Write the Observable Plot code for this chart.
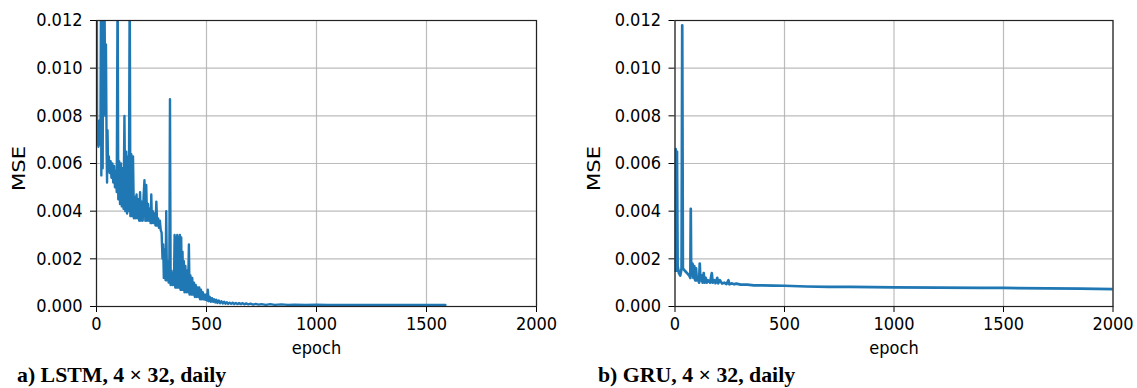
<!DOCTYPE html>
<html>
<head>
<meta charset="utf-8">
<script src="https://cdn.jsdelivr.net/npm/d3@7"></script>
<script src="https://cdn.jsdelivr.net/npm/@observablehq/plot@0.6"></script>
<style>
  html, body { margin: 0; padding: 0; background: #fff; }
  #wrap { position: relative; width: 1137px; height: 388px; overflow: hidden; }
  .panel { position: absolute; top: 0; }
  .cap { position: absolute; top: 364px; font-family: "Liberation Serif", "Times New Roman", serif; font-weight: bold; font-size: 21.8px; line-height: 22px; color: #000; white-space: nowrap; }
</style>
</head>
<body>
<div id="wrap">
  <div class="panel" id="p1" style="left:0px"></div>
  <div class="panel" id="p2" style="left:568px"></div>
  <div class="cap" style="left:17px">a) LSTM, 4 × 32, daily</div>
  <div class="cap" style="left:598px">b) GRU, 4 × 32, daily</div>
</div>
<script>
const xTicks = [0, 500, 1000, 1500, 2000];
const yTicks = [0, 0.002, 0.004, 0.006, 0.008, 0.010, 0.012];

const lstmEpoch = [0,3,6,9,12,15,18,20,22,25,28,31,34,37,40,43,46,48,50,53,56,60,64,68,72,76,80,84,88,92,96,99,103,107,111,115,119,123,127,131,135,139,143,147,151,154,158,162,166,170,174,178,182,186,190,194,198,202,206,210,214,218,222,226,230,234,238,242,246,249,252,256,260,264,268,272,276,280,284,288,292,296,300,303,306,310,314,317,320,324,328,331,334,337,341,345,349,352,355,358,361,364,367,370,373,376,379,382,385,388,391,394,397,400,404,408,412,416,420,423,427,431,435,439,443,447,451,455,459,463,467,471,475,479,483,487,491,495,499,503,506,510,515,520,525,530,535,540,545,550,556,562,568,574,580,586,592,598,605,612,619,626,633,640,648,656,664,672,680,690,700,712,724,736,750,770,790,810,840,870,900,950,1000,1050,1100,1200,1300,1400,1500,1586];
const lstmMSE = [0.0200,0.0068,0.0072,0.0067,0.0078,0.0068,0.0075,0.0125,0.0055,0.0140,0.0058,0.0130,0.0090,0.0120,0.0080,0.0110,0.0065,0.0052,0.0074,0.0057,0.0063,0.0056,0.0061,0.0054,0.0060,0.0052,0.0059,0.0050,0.0057,0.0048,0.0140,0.0045,0.0061,0.0043,0.0060,0.0042,0.0058,0.0041,0.0080,0.0040,0.0065,0.0039,0.0063,0.0040,0.0140,0.0038,0.0064,0.0038,0.0063,0.0037,0.0046,0.0037,0.0047,0.0037,0.0045,0.0036,0.0048,0.0036,0.0044,0.0036,0.0046,0.0053,0.0036,0.0051,0.0036,0.0043,0.0036,0.0041,0.0035,0.0047,0.0035,0.0040,0.0035,0.0039,0.0034,0.0044,0.0034,0.0037,0.0033,0.0036,0.0032,0.0031,0.0020,0.0026,0.0012,0.0024,0.0011,0.0040,0.0011,0.0019,0.0010,0.0016,0.0087,0.0009,0.0015,0.0009,0.0014,0.0009,0.0030,0.0008,0.0029,0.0008,0.0030,0.0008,0.0029,0.0008,0.0030,0.0007,0.0029,0.0007,0.0023,0.0007,0.0019,0.0006,0.0017,0.0006,0.0015,0.0006,0.0026,0.0005,0.0013,0.0005,0.0012,0.0005,0.0010,0.0004,0.0009,0.0004,0.0008,0.0004,0.0008,0.0003,0.0007,0.0003,0.0006,0.0003,0.0005,0.00028,0.0005,0.00025,0.0007,0.00022,0.0004,0.0002,0.00035,0.0002,0.0003,0.00017,0.00028,0.00015,0.00025,0.00014,0.00022,0.00013,0.0002,0.00012,0.00018,0.00011,0.00016,0.00011,0.00016,0.0001,0.00015,0.0001,0.00014,0.0001,0.00014,0.00009,0.00013,0.00009,0.00012,0.00008,0.00011,0.00008,0.0001,0.00007,0.0001,0.00007,0.00009,0.00007,0.00008,0.00006,0.00008,0.00006,0.00007,0.00006,0.00006,0.00006,0.00006,0.00006];

const gruEpoch = [0,3,6,9,12,18,24,30,33,36,45,55,65,70,72,74,80,84,88,92,96,100,105,110,113,116,122,126,131,135,140,145,150,160,168,172,180,185,193,197,205,215,225,235,244,248,260,270,280,300,330,360,400,450,500,600,700,800,900,1000,1200,1400,1500,1700,1850,2000];
const gruMSE = [0.0015,0.0066,0.0015,0.0065,0.0017,0.0014,0.0013,0.0016,0.0118,0.0016,0.0015,0.0014,0.0013,0.0012,0.0041,0.0013,0.0018,0.0012,0.0017,0.0011,0.0016,0.0011,0.0012,0.0010,0.0018,0.0011,0.0013,0.0010,0.0014,0.0010,0.0012,0.0010,0.0011,0.0010,0.0014,0.0010,0.0011,0.00098,0.0012,0.00097,0.0011,0.00096,0.0010,0.00094,0.0011,0.00093,0.00097,0.00093,0.00096,0.00092,0.00092,0.00089,0.00089,0.00088,0.00087,0.00084,0.00082,0.00082,0.00081,0.0008,0.00079,0.00078,0.00078,0.00076,0.00075,0.00073];

const blue = "#1f77b4";

function panel(epochs, values, opts, strokeWidth) {
  const data = epochs.map((e, i) => ({epoch: e, mse: values[i]}));
  const svg = Plot.plot({
    width: opts.width,
    height: 362,
    marginLeft: opts.ml,
    marginRight: opts.mr,
    marginTop: 20,
    marginBottom: 56,
    style: {fontFamily: "'DejaVu Sans Condensed', 'DejaVu Sans', sans-serif", fontStretch: "condensed", fontSize: "18px", color: "#000", background: "#fff"},
    x: {domain: [0, 2000]},
    y: {domain: [0, 0.012]},
    marks: [
      Plot.gridX(xTicks, {stroke: "#b0b0b0", strokeOpacity: 0.85, strokeWidth: 1.2}),
      Plot.gridY(yTicks, {stroke: "#b0b0b0", strokeOpacity: 0.85, strokeWidth: 1.2}),
      Plot.axisX(xTicks, {tickSize: 6, tickPadding: 5, fontSize: 18, label: "epoch", labelAnchor: "center", labelArrow: "none", labelOffset: 47, tickFormat: d3.format("d")}),
      Plot.axisY(yTicks, {tickSize: 6, tickPadding: 8, fontSize: 18, label: "MSE", labelAnchor: "center", labelArrow: "none", labelOffset: opts.lo, tickFormat: d3.format(".3f")}),
      Plot.line(data, {x: "epoch", y: "mse", stroke: blue, strokeWidth: strokeWidth, clip: true}),
      Plot.frame({stroke: "#222", strokeWidth: 1.2})
    ]
  });
  const lg = svg.querySelector('g[aria-label="y-axis label"]');
  if (lg) {
    lg.setAttribute("transform", (lg.getAttribute("transform") || "") + " translate(0,5)");
    const t = lg.querySelector("text");
    if (t) {
      t.style.fontFamily = "'DejaVu Sans', sans-serif";
      t.style.fontStretch = "normal";
      t.style.fontSize = "17px";
      t.setAttribute("transform", (t.getAttribute("transform") || "") + " scale(1.25,1)");
    }
  }
  return svg;
}

document.getElementById("p1").append(panel(lstmEpoch, lstmMSE, {width: 568, ml: 96, mr: 32, lo: 84}, 2.4));
document.getElementById("p2").append(panel(gruEpoch, gruMSE, {width: 569, ml: 106.5, mr: 24.5, lo: 87}, 2.7));
</script>
</body>
</html>
